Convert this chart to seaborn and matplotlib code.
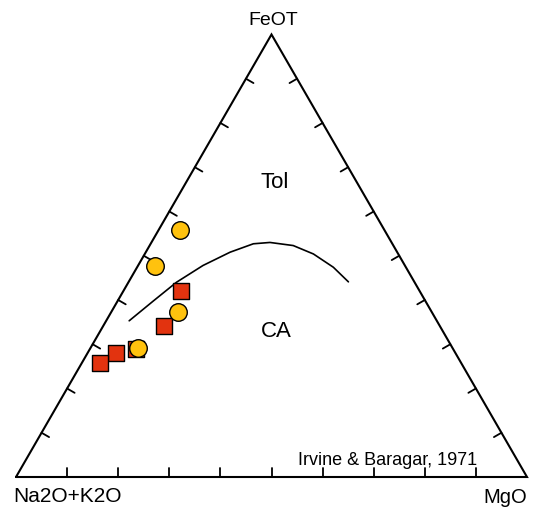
import numpy as np
import pandas as pd
import matplotlib
matplotlib.use("Agg")
import matplotlib.pyplot as plt
import seaborn as sns

# compositions, as fractions (A = Na2O+K2O, F = FeOT, M = MgO)
circ_A = [0.400, 0.490, 0.497, 0.616]
circ_F = [0.558, 0.477, 0.373, 0.292]
circ_M = [0.042, 0.033, 0.130, 0.092]

sq_A = [0.467, 0.540, 0.620, 0.664, 0.707]
sq_F = [0.420, 0.341, 0.289, 0.280, 0.258]
sq_M = [0.113, 0.119, 0.091, 0.056, 0.035]

# Irvine & Baragar (1971) tholeiitic / calc-alkaline boundary
line_A = [0.602, 0.532, 0.466, 0.395, 0.327, 0.272, 0.238, 0.196, 0.166, 0.142, 0.129]
line_F = [0.353, 0.398, 0.440, 0.478, 0.508, 0.527, 0.530, 0.523, 0.504, 0.474, 0.441]
line_M = [0.045, 0.070, 0.094, 0.127, 0.165, 0.201, 0.232, 0.281, 0.330, 0.384, 0.430]

apex_labels = ["Na2O+K2O", "MgO", "FeOT"]


def tern_xy(A, F, M):
    A, F, M = np.asarray(A), np.asarray(F), np.asarray(M)
    tot = A + F + M
    F, M = F / tot, M / tot
    return M + F / 2, F * np.sqrt(3) / 2


sns.set_style("white")
plt.rcParams["font.family"] = ["Liberation Sans", "DejaVu Sans"]
plt.rcParams["text.color"] = "black"

fig = plt.figure(figsize=(5.39, 5.10), dpi=100)
ax = fig.add_axes([0, 0, 1, 1])
ax.set_xlim(-16 / 511, 523 / 511)
ax.set_ylim(-32 / 511, 478 / 511)
ax.axis("off")

h = np.sqrt(3) / 2
# triangle outline
ax.plot([0, 1, 0.5, 0], [0, 0, h, 0], color="black", lw=1.5, solid_joinstyle="miter", zorder=1)

# ticks every 10 %, perpendicular to each edge, pointing inward
tl = 0.017
for t in np.arange(0.1, 1.0, 0.1):
    ax.plot([t, t], [0, tl], color="black", lw=1.3)
    lx, ly = t * 0.5, t * h
    ax.plot([lx, lx + tl * h], [ly, ly - tl * 0.5], color="black", lw=1.3)
    rx, ry = 1 - t * 0.5, t * h
    ax.plot([rx, rx - tl * h], [ry, ry - tl * 0.5], color="black", lw=1.3)

lx, ly = tern_xy(line_A, line_F, line_M)
sns.lineplot(x=lx, y=ly, sort=False, color="black", lw=1.2, ax=ax, zorder=2)

sx, sy = tern_xy(sq_A, sq_F, sq_M)
sns.scatterplot(x=sx, y=sy, marker="s", s=130, color="#E2330F", edgecolor="black",
                linewidth=1.0, ax=ax, zorder=3)
cx, cy = tern_xy(circ_A, circ_F, circ_M)
sns.scatterplot(x=cx, y=cy, marker="o", s=160, color="#FFC20E", edgecolor="black",
                linewidth=1.0, ax=ax, zorder=4)

ax.text(0.504, 0.8865, apex_labels[2], ha="center", va="baseline", fontsize=14)
ax.text(-0.005, -0.047, apex_labels[0], ha="left", va="baseline", fontsize=15)
ax.text(1.0, -0.048, apex_labels[1], ha="right", va="baseline", fontsize=14.5)

ax.text(0.507, 0.5675, "Tol", ha="center", va="baseline", fontsize=16)
ax.text(0.510, 0.2765, "CA", ha="center", va="baseline", fontsize=16)
ax.text(0.902, 0.0254, "Irvine & Baragar, 1971", ha="right", va="baseline", fontsize=13)

fig.savefig("out.png", dpi=100)
